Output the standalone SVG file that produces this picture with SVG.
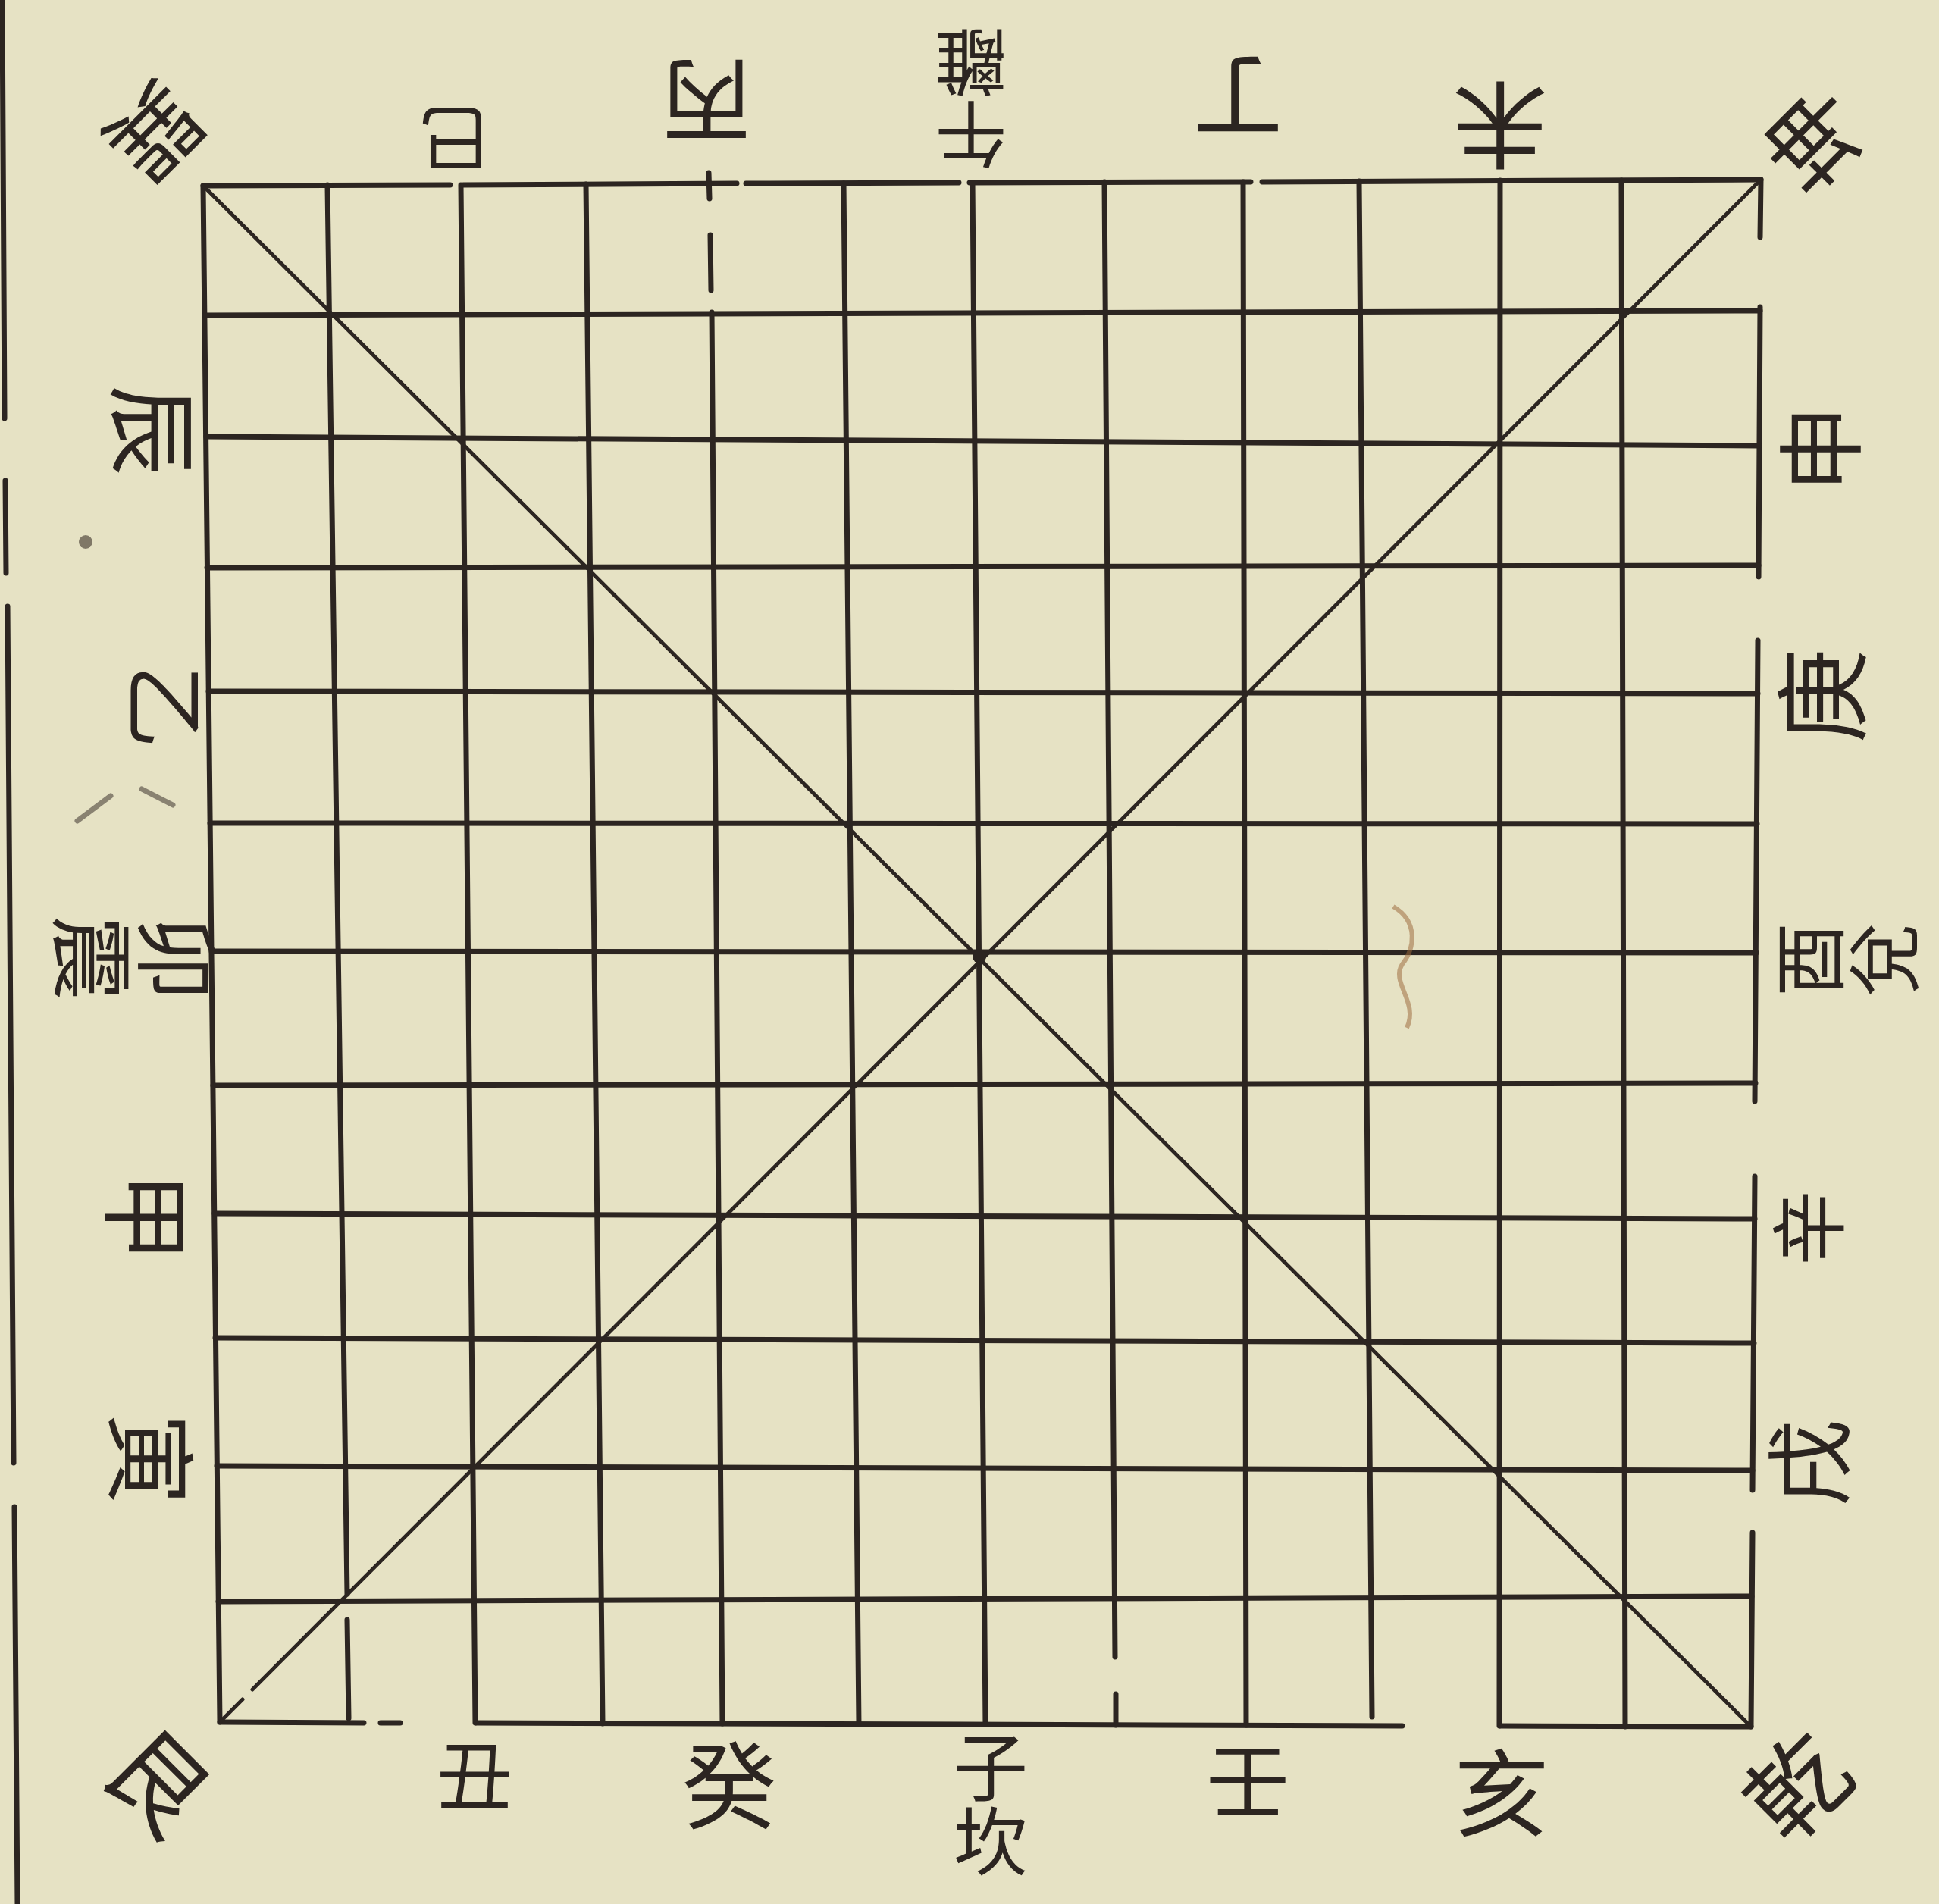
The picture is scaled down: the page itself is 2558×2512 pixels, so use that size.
<svg xmlns="http://www.w3.org/2000/svg" width="2558" height="2512" viewBox="0 0 2558 2512">
<style>
.ln{fill:none;stroke:#2c2521;stroke-width:7;stroke-linecap:round}
.dg{fill:none;stroke:#2c2521;stroke-width:5;stroke-linecap:round}
.lab{font-family:"Noto Sans CJK TC","Noto Sans CJK SC",serif;fill:#2c2521;text-anchor:middle;dominant-baseline:central}
.vlab{font-family:"Noto Sans CJK TC","Noto Sans CJK SC",serif;fill:#2c2521;text-anchor:middle;writing-mode:vertical-rl}
</style>
<rect width="2558" height="2512" fill="#e6e2c4"/>
<g id="page-edge">
<path class="ln" stroke-width="5" d="M3,0 L6,552 M7,634 L8,756 M10,800 L18,1930 M19,1988 L23,2512"/>
</g>
<g id="connectors">
<g id="verticals">
<path class="ln" d="M268,245 L290,2272"/>
<path class="ln" d="M432,244 L458,2103 M458,2137 L460,2267"/>
<path class="ln" d="M608,244 L627,2273"/>
<path class="ln" d="M773,243 L795,2274"/>
<path class="ln" d="M935,228 L936,262 M937,310 L938,383 M939,412 L953,2274"/>
<path class="ln" d="M1113,242 L1133,2275"/>
<path class="ln" d="M1283,241 L1300,2275"/>
<path class="ln" d="M1457,240 L1471,2186 M1472,2235 L1472,2276"/>
<path class="ln" d="M1640,240 L1644,2276"/>
<path class="ln" d="M1793,239 L1810,2265"/>
<path class="ln" d="M1979,238 L1978,2277"/>
<path class="ln" d="M2139,238 L2144,2278"/>
<path class="ln" d="M2323,237 L2322,313 M2322,405 L2320,761 M2319,845 L2315,1453 M2315,1552 L2312,1966 M2312,2022 L2310,2278"/>
</g>
<g id="horizontals">
<path class="ln" d="M268,245 L594,244 M611,244 L972,242 M984,242 L1265,241 M1279,241 L1650,240 M1665,240 L2323,237"/>
<path class="ln" d="M270,416 L2322,410"/>
<path class="ln" d="M272,576 L2321,588"/>
<path class="ln" d="M273,749 L2320,746"/>
<path class="ln" d="M275,912 L2319,915"/>
<path class="ln" d="M277,1086 L2318,1087"/>
<path class="ln" d="M279,1255 L2317,1257"/>
<path class="ln" d="M281,1432 L2316,1429"/>
<path class="ln" d="M283,1601 L2315,1608"/>
<path class="ln" d="M284,1765 L2314,1772"/>
<path class="ln" d="M286,1934 L2312,1940"/>
<path class="ln" d="M288,2113 L2311,2106"/>
<path class="ln" d="M290,2272 L480,2273 M502,2273 L528,2273 M628,2273 L1850,2277 M1979,2277 L2310,2278"/>
</g>
<g id="diagonals">
<path class="dg" d="M268,245 L2310,2278"/>
<path class="dg" d="M2323,237 L333,2229 M320,2242 L290,2272"/>
<circle cx="1292" cy="1262" r="9" fill="#2c2521"/>
</g>
</g>
<g id="marks" opacity="0.75">
<circle cx="113" cy="715" r="9" fill="#5e5548"/>
<path d="M102,1083 L146,1050" stroke="#6a6256" stroke-width="7" stroke-linecap="round" fill="none"/>
<path d="M187,1041 L228,1062" stroke="#6a6256" stroke-width="7" stroke-linecap="round" fill="none"/>
<path d="M1838,1196 C1872,1216 1866,1252 1850,1272 C1834,1296 1872,1322 1856,1356" stroke="#9c6a3c" stroke-width="6" fill="none" opacity="0.7"/>
</g>
<g id="labels">
<g id="n-xun"><text class="lab" font-size="120" x="209" y="180" transform="rotate(135 209 180)">巽</text></g>
<g id="n-si"><text class="lab" font-size="95" x="600" y="188" transform="rotate(180 600 188)">巳</text></g>
<g id="n-bing"><text class="lab" font-size="120" x="932" y="140" transform="rotate(180 932 140)">丙</text></g>
<g id="n-wu"><text class="vlab" font-size="95" x="1281" y="130" transform="rotate(180 1281 130)">午離</text></g>
<g id="n-ding"><text class="lab" font-size="120" x="1633" y="135" transform="rotate(180 1633 135)">丁</text></g>
<g id="n-wei"><text class="lab" font-size="125" x="1979" y="172" transform="rotate(180 1979 172)">未</text></g>
<g id="n-kun"><text class="lab" font-size="125" x="2388" y="190" transform="rotate(-135 2388 190)">坤</text></g>

<g id="n-chen"><text class="lab" font-size="120" x="208" y="568" transform="rotate(90 208 568)">辰</text></g>
<g id="n-yi"><text class="lab" font-size="110" x="225" y="932" transform="rotate(90 225 932)">乙</text></g>
<g id="n-mao"><text class="vlab" font-size="112" x="178" y="1264" transform="rotate(90 178 1264)">卯震</text></g>
<g id="n-jia"><text class="lab" font-size="120" x="200" y="1606" transform="rotate(90 200 1606)">甲</text></g>
<g id="n-yin"><text class="lab" font-size="120" x="205" y="1925" transform="rotate(90 205 1925)">寅</text></g>
<g id="n-gen"><text class="lab" font-size="130" x="215" y="2345" transform="rotate(45 215 2345)">艮</text></g>

<g id="n-chou"><text class="lab" font-size="100" x="626" y="2336">丑</text></g>
<g id="n-gui"><text class="lab" font-size="125" x="962" y="2348">癸</text></g>
<g id="n-zi"><text class="vlab" font-size="98" x="1307" y="2380">子坎</text></g>
<g id="n-ren"><text class="lab" font-size="110" x="1646" y="2342">壬</text></g>
<g id="n-hai"><text class="lab" font-size="125" x="1981" y="2358">亥</text></g>
<g id="n-qian"><text class="lab" font-size="130" x="2365" y="2351" transform="rotate(-45 2365 2351)">乾</text></g>

<g id="n-shen"><text class="lab" font-size="115" x="2395" y="592" transform="rotate(-90 2395 592)">申</text></g>
<g id="n-geng"><text class="lab" font-size="125" x="2396" y="918" transform="rotate(-90 2396 918)">庚</text></g>
<g id="n-you"><text class="vlab" font-size="98" x="2436" y="1266" transform="rotate(-90 2436 1266)">酉兌</text></g>
<g id="n-xin"><text class="lab" font-size="100" x="2380" y="1620" transform="rotate(-90 2380 1620)">辛</text></g>
<g id="n-xu"><text class="lab" font-size="115" x="2380" y="1930" transform="rotate(-90 2380 1930)">戌</text></g>
</g>
</svg>
